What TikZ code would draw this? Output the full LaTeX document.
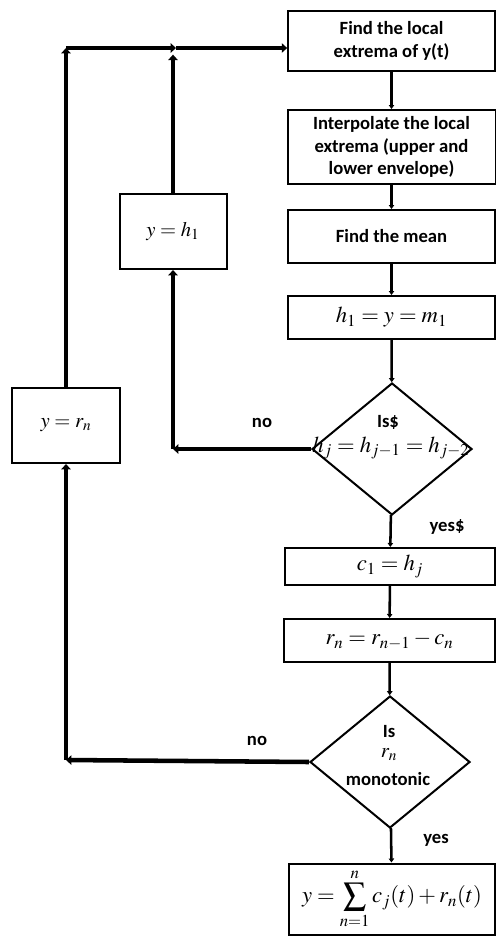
\documentclass[tikz,border=0pt]{standalone}
\usepackage{mathptmx}
\usepackage[no-math]{fontspec}
\usepackage{tikz}
\usetikzlibrary{positioning,arrows.meta,shapes.geometric}
\newfontfamily\calib{Carlito}
\newcommand{\boldtext}{\calib\bfseries\fontsize{14}{17}\selectfont}
\newcommand{\mathtext}{\fontsize{17}{20}\selectfont}
\newcommand{\smallmath}{\fontsize{15.5}{18}\selectfont}
\tikzset{
  box/.style   = {draw, line width=1.5pt, align=center, font=\boldtext, inner sep=2pt},
  mbox/.style  = {draw, line width=1.5pt, align=center, font=\mathtext, inner sep=2pt},
  dbox/.style  = {draw, diamond, line width=1.5pt, inner sep=0pt, minimum width=120pt, minimum height=99pt},
  lbl/.style   = {font=\boldtext, inner sep=1pt},
  mlbl/.style  = {font=\mathtext, inner sep=1pt},
  flow/.style  = {-{Triangle[length=3pt,width=4pt]}, line width=1.9pt},
  back/.style  = {-{Triangle[length=4pt,width=7pt]}, line width=3.4pt},
}
\begin{document}
\begin{tikzpicture}[x=0.75pt, y=-0.75pt]
  \useasboundingbox (0,0) rectangle (496,936);
  % main column
  \node[box, minimum width=155pt, minimum height=45pt] (find) at (391.5,41) {Find the local\\extrema of y(t)};
  \node[box, minimum width=156pt, minimum height=55.5pt] (interp) at (391.5,147) {Interpolate the local\\extrema (upper and\\lower envelope)};
  \node[box, minimum width=155pt, minimum height=39.75pt] (mean) at (391.5,236.5) {Find the mean};
  \node[mbox, minimum width=155pt, minimum height=32.25pt] (hone) at (391.5,317.5) {$h_1 = y = m_1$};
  \node[dbox] (testh) at (392,449) {};
  \node[lbl] (ish) at (388,422) {Is\$};
  \node[mlbl] (eqh) at (391,448) {$h_j = h_{j-1} = h_{j-2}$};
  \node[mbox, minimum width=157.5pt, minimum height=27.75pt] (cone) at (390,566.5) {$c_1 = h_j$};
  \node[mbox, minimum width=158.25pt, minimum height=32.25pt] (rn) at (389.5,640.5) {$r_n = r_{n-1} - c_n$};
  \node[dbox] (testr) at (390,762) {};
  \node[lbl] (isr) at (389,732) {Is};
  \node[mlbl, font=\smallmath] (rr) at (389,755) {$r_n$};
  \node[lbl] (mono) at (388,779) {monotonic};
  \node[mbox, minimum width=154.5pt, minimum height=53.25pt] (result) at (392,899) {$y = \displaystyle\sum_{n=1}^{n} c_j(t) + r_n(t)$};
  % feedback boxes
  \node[mbox, font=\smallmath, minimum width=80.25pt, minimum height=56.25pt] (seth) at (173,231.5) {$y = h_1$};
  \node[mbox, font=\smallmath, minimum width=81pt, minimum height=56.25pt] (setr) at (66,425.5) {$y = r_n$};
  \coordinate (topL) at (66,48);
  \coordinate (topM) at (176,48);
  \coordinate (noh) at (173,449);
  \coordinate (nor) at (66,760);
  % labels
  \node[lbl] (noa) at (262,423) {no};
  \node[lbl] (nob) at (257,741) {no};
  \node[lbl] (yesa) at (447,527) {yes\$};
  \node[lbl] (yesb) at (436,840) {yes};
  % connectors
  \draw[flow] (find) -- (interp);
  \draw[flow] (interp) -- (mean);
  \draw[flow] (mean) -- (hone);
  \draw[flow] (hone) -- (testh);
  \draw[flow] (testh) -- (cone);
  \draw[flow] (cone) -- (rn);
  \draw[flow] (rn) -- (testr);
  \draw[flow] (testr) -- (result);
  \draw[back] (testh.west) -- (noh);
  \draw[back] (noh) -- (seth);
  \draw[back] (seth) -- ([yshift=-5]topM -| seth);
  \draw[back] (testr.west) -- (nor);
  \draw[back] (nor) -- (setr);
  \draw[back] (setr) -- (topL);
  \draw[back] (topL) -- (topM);
  \draw[back] (topM) -- (topM -| find.west);
\end{tikzpicture}
\end{document}
